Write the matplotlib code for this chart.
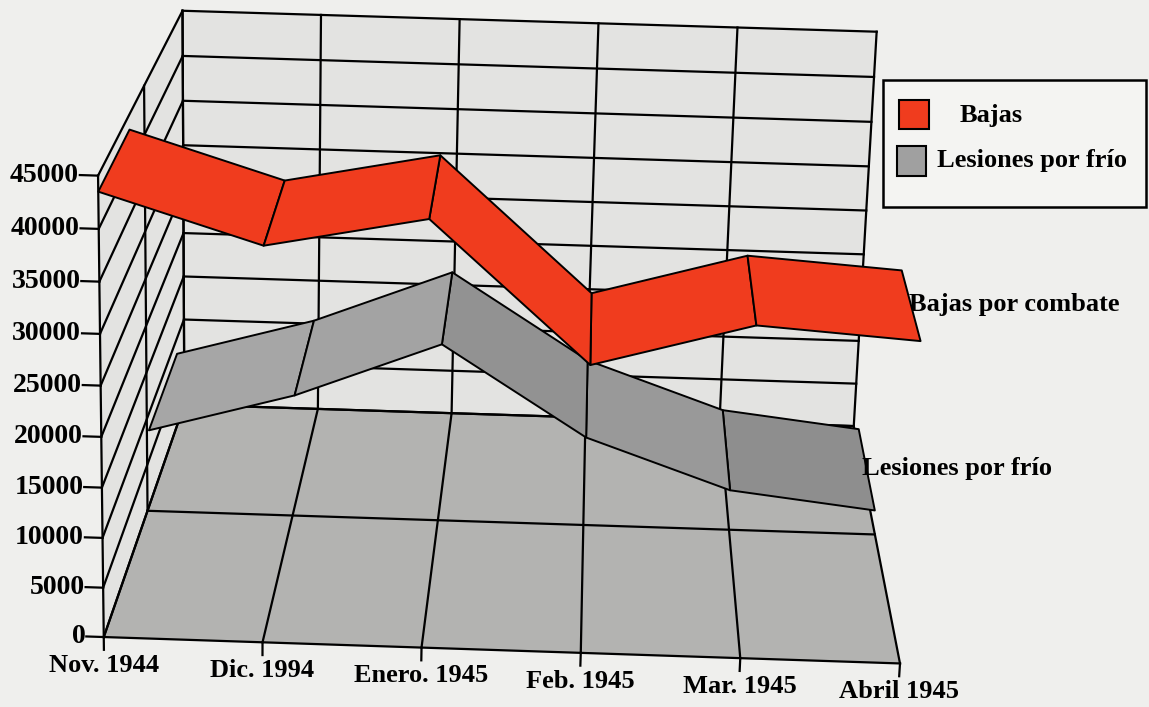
import matplotlib
matplotlib.use('Agg')
import matplotlib.pyplot as plt
from matplotlib.patches import Rectangle
from mpl_toolkits.mplot3d import proj3d
from mpl_toolkits.mplot3d.art3d import Poly3DCollection

# datos
meses = ['Nov. 1944', 'Dic. 1994', 'Enero. 1945', 'Feb. 1945', 'Mar. 1945', 'Abril 1945']
bajas_combate = [43500, 38900, 41900, 28500, 32800, 31800]
lesiones_frio = [8200, 12500, 18500, 8950, 3700, 2000]
valores_eje = list(range(0, 45001, 5000))
leyenda = ['Bajas', 'Lesiones por frío']

ROJO = '#f03c1e'
GRIS = '#a0a0a0'
grises_tramos = ['#a6a6a6', '#a3a3a3', '#929292', '#999999', '#8e8e8e']
PARED = '#e3e3e1'
SUELO = '#b3b3b1'
FONDO = '#efefed'

plt.rcParams['font.family'] = ['Liberation Serif', 'DejaVu Serif']
plt.rcParams['font.weight'] = 'bold'
FS = 19

fig = plt.figure(figsize=(11.49, 7.07), dpi=100, facecolor=FONDO)
ax = fig.add_axes([-0.0644, -0.2789, 1.0, 1.6252], projection='3d',
                  computed_zorder=False)
ax.set_proj_type('persp', focal_length=0.565)
ax.set_box_aspect((1.195, 1.049, 0.72), zoom=0.9159)
ax.view_init(elev=18, azim=-89, roll=-1.5)
ax.set_xlim(0, len(meses) - 1)
ax.set_ylim(0, 2)
ax.set_zlim(0, valores_eje[-1])
ax.set_axis_off()
ax.set_facecolor('none')

X0, X1 = 0, len(meses) - 1
Y0, YM, Y1 = 0, 1, 2
ZT = valores_eje[-1]

# paredes y suelo
fondo = [(X0, Y1, 0), (X1, Y1, 0), (X1, Y1, ZT), (X0, Y1, ZT)]
izq = [(X0, Y0, 0), (X0, Y1, 0), (X0, Y1, ZT), (X0, Y0, ZT)]
suelo = [(X0, Y0, 0), (X1, Y0, 0), (X1, Y1, 0), (X0, Y1, 0)]
ax.add_collection3d(Poly3DCollection([fondo, izq], facecolors=PARED,
                                     edgecolors='none', zorder=1))
ax.add_collection3d(Poly3DCollection([suelo], facecolors=SUELO,
                                     edgecolors='none', zorder=1))

lk = dict(color='black', lw=1.6, zorder=2, solid_capstyle='projecting')
for v in valores_eje:
    ax.plot([X0, X1], [Y1, Y1], [v, v], **lk)
    ax.plot([X0, X0], [Y0, Y1], [v, v], **lk)
for i in range(len(meses)):
    ax.plot([i, i], [Y1, Y1], [0, ZT], **lk)
    ax.plot([i, i], [Y0, Y1], [0, 0], **lk)
for y in (Y0, YM, Y1):
    ax.plot([X0, X0], [y, y], [0, ZT], **lk)
    ax.plot([X0, X1], [y, y], [0, 0], **lk)


def cinta(valores, d0, d1, colores, z):
    polys = []
    for k in range(len(valores) - 1):
        polys.append([(k, d0, valores[k]), (k + 1, d0, valores[k + 1]),
                      (k + 1, d1, valores[k + 1]), (k, d1, valores[k])])
    ax.add_collection3d(Poly3DCollection(polys, facecolors=colores,
                                         edgecolors='black', linewidths=1.4,
                                         zorder=z))


prof_frio = (1.05, 1.8)
prof_bajas = (0.0, 0.66)
cinta(lesiones_frio, *prof_frio, grises_tramos, 3)
cinta(bajas_combate, *prof_bajas, ROJO, 4)

# textos: se proyectan a 2D para que queden como texto normal
M = ax.get_proj()


def texto(x, y, z, s, fs=FS, **kw):
    px, py, _ = proj3d.proj_transform(x, y, z, M)
    ax.text2D(px, py, s, transform=ax.transData, fontsize=fs, **kw)


for v in valores_eje:
    ax.plot([X0, X0 - 0.11], [Y0, Y0], [v, v], **lk)
    texto(X0 - 0.115, Y0, v, f'{v}', fs=20, ha='right', va='center')
for i, m in enumerate(meses):
    ax.plot([i, i], [Y0, Y0], [0, -1300], **lk)
    texto(i, Y0, -1700, m, ha='center', va='top')

texto(X1 - 0.01, sum(prof_bajas) / 2, bajas_combate[-1], 'Bajas por combate',
      ha='left', va='center')
texto(X1 - 0.03, sum(prof_frio) / 2, lesiones_frio[-1], 'Lesiones por frío',
      ha='left', va='center')

# leyenda dibujada a mano (caja mas alta que la de fig.legend)
fig.add_artist(Rectangle((0.7685, 0.7072), 0.2285, 0.1796,
                         transform=fig.transFigure, facecolor='#f4f4f2',
                         edgecolor='black', lw=1.8))
fig.add_artist(Rectangle((0.7824, 0.8175), 0.0261, 0.0410,
                         transform=fig.transFigure, facecolor=ROJO,
                         edgecolor='black', lw=1.5))
fig.add_artist(Rectangle((0.7807, 0.7510), 0.0252, 0.0424,
                         transform=fig.transFigure, facecolor=GRIS,
                         edgecolor='black', lw=1.5))
fig.text(0.8355, 0.8373, leyenda[0], ha='left', va='center', fontsize=FS)
fig.text(0.8155, 0.7723, leyenda[1], ha='left', va='center', fontsize=FS)

fig.savefig('out.png', dpi=100, facecolor=fig.get_facecolor())
